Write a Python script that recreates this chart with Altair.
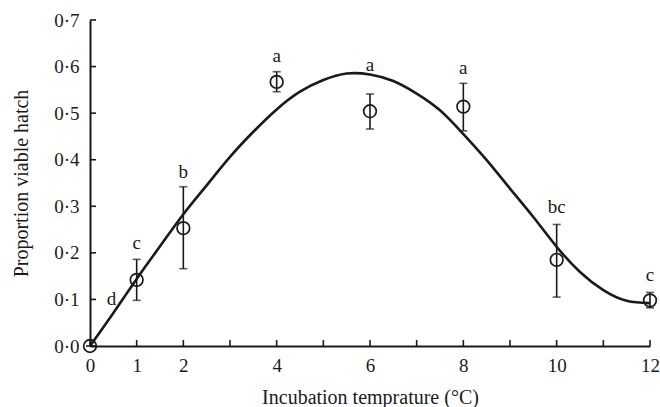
import altair as alt
import pandas as pd

# Mean proportion of viable hatch per incubation temperature, with error bars
temps = [0, 1, 2, 4, 6, 8, 10, 12]
means = [0.0, 0.142, 0.253, 0.567, 0.504, 0.514, 0.185, 0.098]
err_lo = [0.0, 0.098, 0.166, 0.546, 0.466, 0.462, 0.105, 0.082]
err_hi = [0.0, 0.186, 0.342, 0.589, 0.541, 0.564, 0.261, 0.115]

# Significance-group letters and where they sit
letters = ["d", "c", "b", "a", "a", "a", "bc", "c"]
letter_x = [0.46, 1, 2, 4, 6, 8, 10, 12]
letter_y = [0.100, 0.222, 0.374, 0.622, 0.603, 0.598, 0.299, 0.153]

# Fitted response curve
curve_x = [0, 0.5, 1, 1.5, 2, 2.5, 3, 3.5, 4, 4.5, 5, 5.5, 6, 6.5, 7, 7.5, 8,
           8.5, 9, 9.5, 10, 10.5, 11, 11.5, 12]
curve_y = [0.0, 0.071, 0.144, 0.214, 0.283, 0.345, 0.406, 0.460, 0.508, 0.546,
           0.571, 0.585, 0.583, 0.569, 0.542, 0.506, 0.455, 0.399, 0.338, 0.277,
           0.213, 0.159, 0.120, 0.097, 0.092]

x_ticks = list(range(0, 13))
y_ticks = [0.0, 0.1, 0.2, 0.3, 0.4, 0.5, 0.6, 0.7]

pts = pd.DataFrame({"t": temps, "m": means, "lo": err_lo, "hi": err_hi})
lab = pd.DataFrame({"x": letter_x, "y": letter_y, "s": letters})
crv = pd.DataFrame({"x": curve_x, "y": curve_y})
xt = pd.DataFrame({"v": x_ticks})
yt = pd.DataFrame({"v": y_ticks})

FONT = "'Liberation Serif', 'Times New Roman', serif"
FS = 19
TFS = 20
INK = "#1a1a1a"
W, H = 560, 326

xscale = alt.Scale(domain=[0, 12], nice=False, zero=False)
yscale = alt.Scale(domain=[0, 0.7], nice=False, zero=True)

x_axis = alt.Axis(
    title="Incubation temprature (°C)",
    values=x_ticks,
    labelExpr="indexof([3,5,7,9,11], datum.value) >= 0 ? '' : datum.label",
    tickSize=0, labelPadding=10, grid=False, labelFlush=False,
    domainColor=INK, domainWidth=2,
    labelFont=FONT, labelFontSize=FS, labelColor=INK,
    titleFont=FONT, titleFontSize=TFS, titleFontWeight="normal", titleColor=INK,
    titlePadding=12,
)
y_axis = alt.Axis(
    title="Proportion viable hatch",
    values=y_ticks,
    format=".1f",
    labelExpr="replace(datum.label, '.', '·')",
    tickSize=0, labelPadding=11, grid=False, labelFlush=False,
    domainColor=INK, domainWidth=2,
    labelFont=FONT, labelFontSize=FS, labelColor=INK,
    titleFont=FONT, titleFontSize=TFS, titleFontWeight="normal", titleColor=INK,
    titlePadding=22,
)

line = alt.Chart(crv).mark_line(
    color=INK, strokeWidth=2.6, interpolate="natural"
).encode(
    x=alt.X("x:Q", scale=xscale, axis=x_axis),
    y=alt.Y("y:Q", scale=yscale, axis=y_axis),
)

bars = alt.Chart(pts).mark_rule(color=INK, strokeWidth=1.6).encode(
    x=alt.X("t:Q", scale=xscale), y=alt.Y("lo:Q", scale=yscale), y2="hi:Q"
)
cap_hi = alt.Chart(pts).mark_tick(
    color=INK, orient="horizontal", size=8, thickness=1.6
).encode(x=alt.X("t:Q", scale=xscale), y=alt.Y("hi:Q", scale=yscale))
cap_lo = alt.Chart(pts).mark_tick(
    color=INK, orient="horizontal", size=8, thickness=1.6
).encode(x=alt.X("t:Q", scale=xscale), y=alt.Y("lo:Q", scale=yscale))

circles = alt.Chart(pts).mark_point(
    shape="circle", filled=False, color=INK, size=160, strokeWidth=1.7, opacity=1
).encode(x=alt.X("t:Q", scale=xscale), y=alt.Y("m:Q", scale=yscale))

text = alt.Chart(lab).mark_text(
    font=FONT, fontSize=FS, color=INK, baseline="middle", align="center"
).encode(x=alt.X("x:Q", scale=xscale), y=alt.Y("y:Q", scale=yscale), text="s:N")

# Inward-pointing ticks on both axes
xticks = alt.Chart(xt).mark_rule(color=INK, strokeWidth=1.6).encode(
    x=alt.X("v:Q", scale=xscale), y=alt.value(H), y2=alt.value(H - 6)
)
yticks = alt.Chart(yt).mark_rule(color=INK, strokeWidth=1.6).encode(
    y=alt.Y("v:Q", scale=yscale), x=alt.value(0), x2=alt.value(6)
)

chart = alt.layer(line, bars, cap_hi, cap_lo, circles, text, xticks, yticks).properties(
    width=W, height=H,
    autosize=alt.AutoSizeParams(type="none"),
    padding={"left": 90, "top": 20, "right": 10, "bottom": 61},
    background="white",
).configure_view(stroke=None)

chart.save("out.html", embed_options={"renderer": "svg", "actions": False})
